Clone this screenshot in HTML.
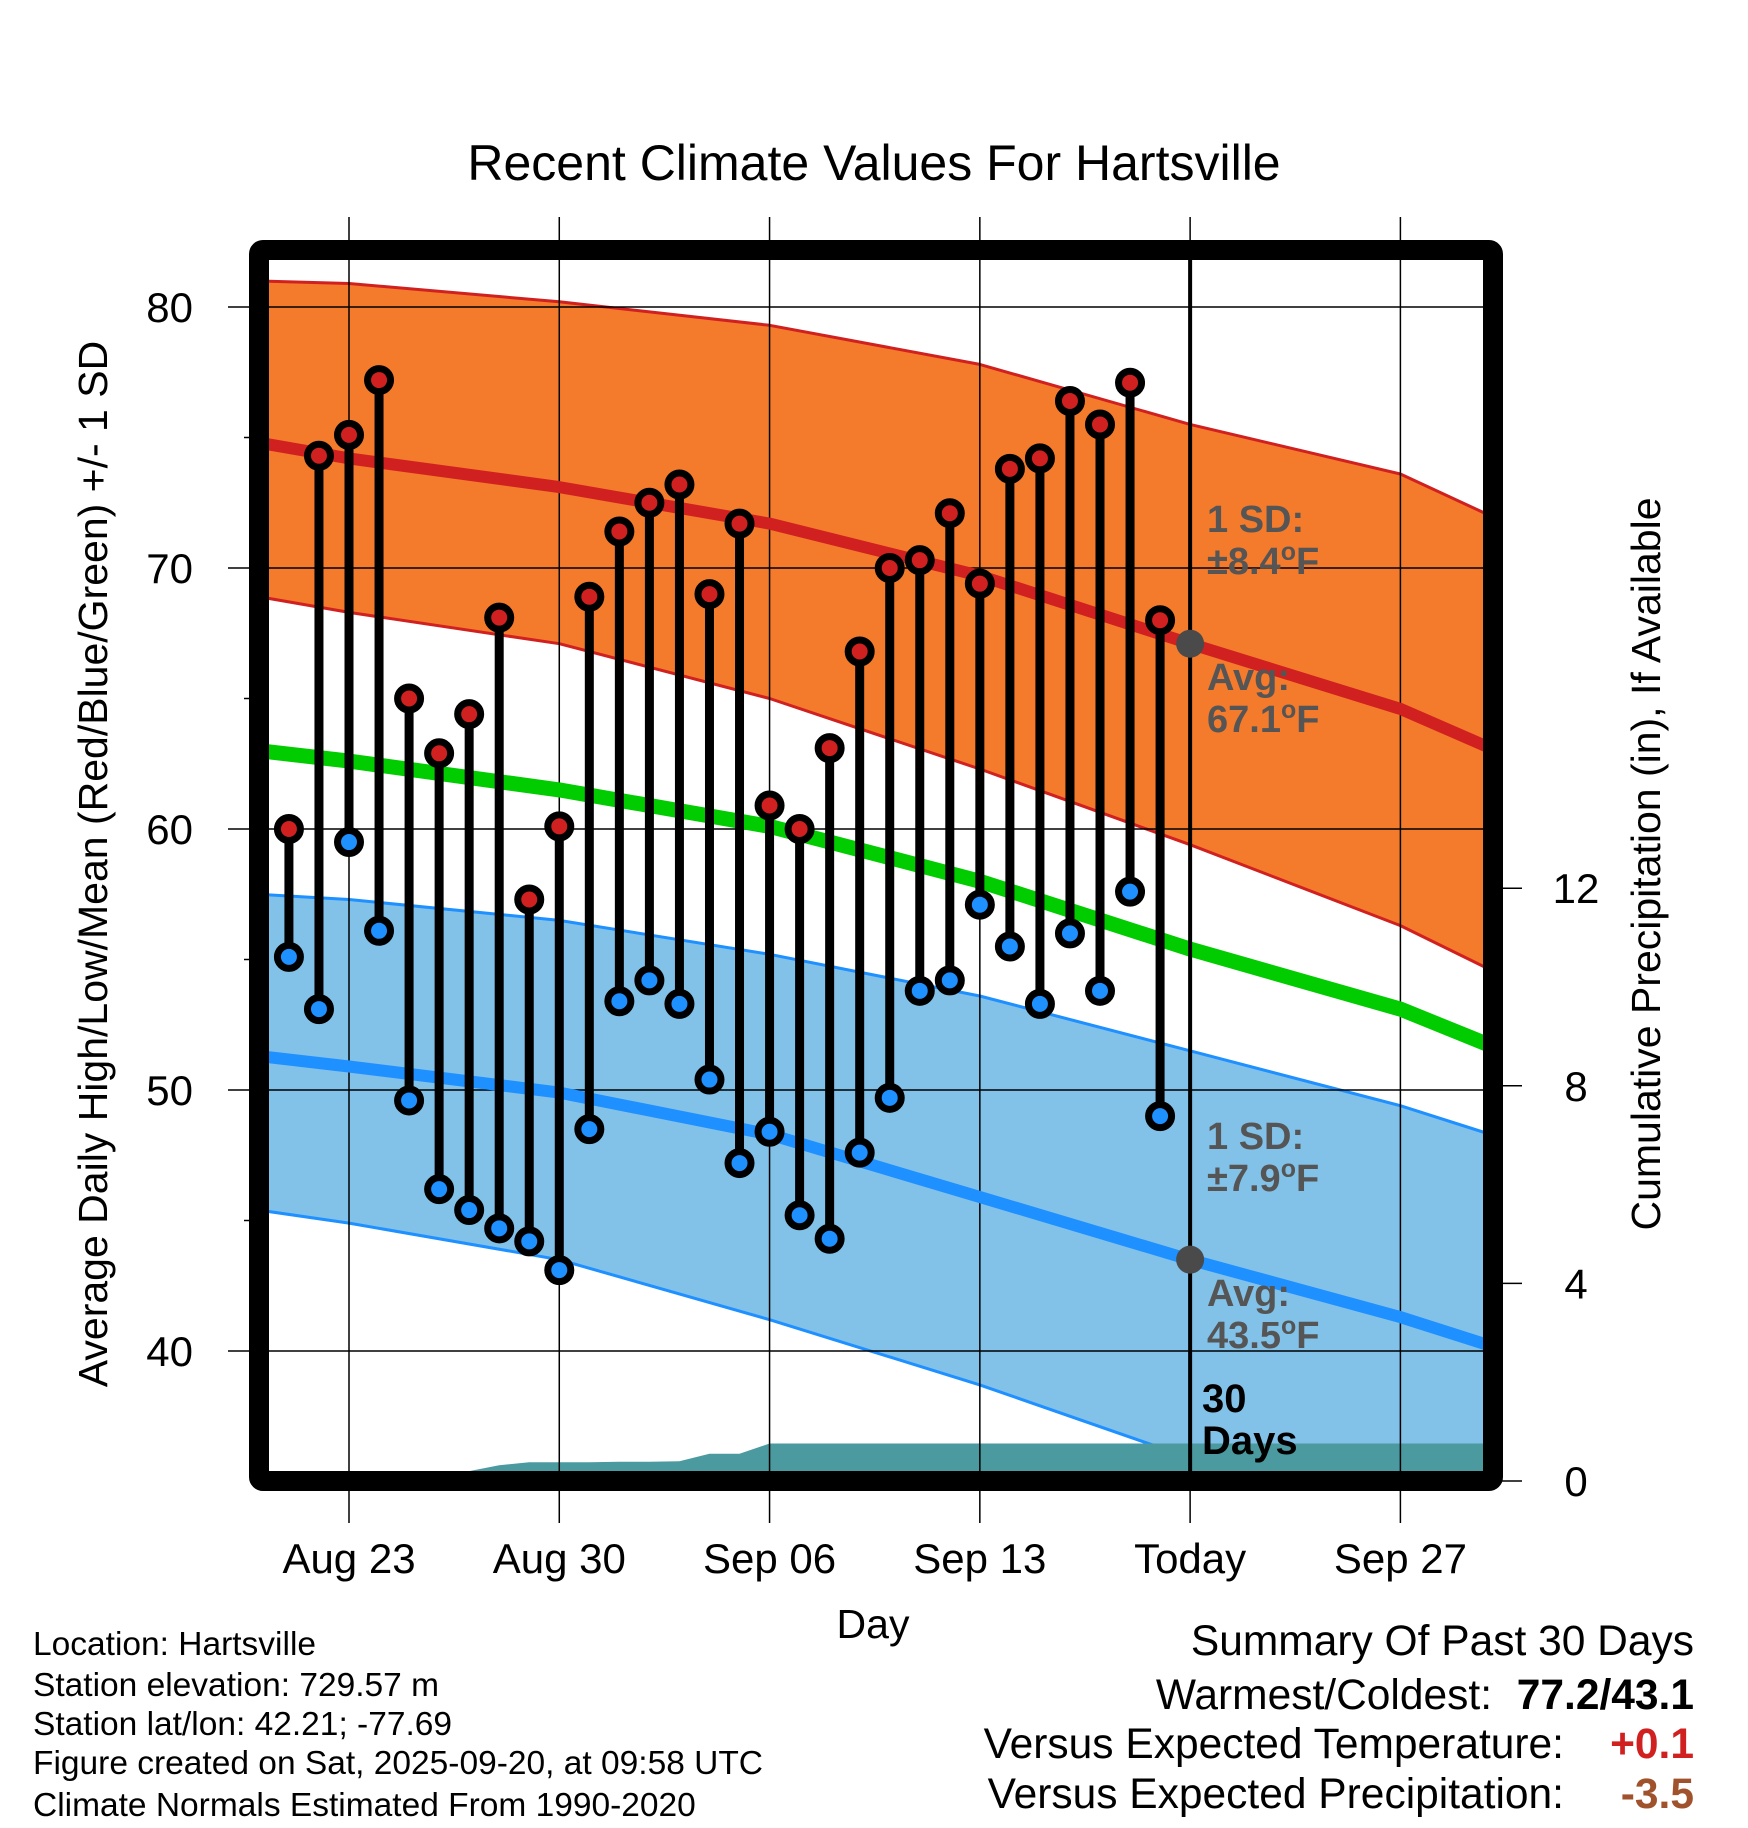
<!DOCTYPE html>
<html><head><meta charset="utf-8"><style>
html,body{margin:0;padding:0;background:#fff}
svg{display:block;font-family:"Liberation Sans",Arial,sans-serif}
</style></head><body>
<svg id="chart" width="1748" height="1828" viewBox="0 0 1748 1828" xmlns="http://www.w3.org/2000/svg">
<defs><clipPath id="pc"><rect x="269" y="260" width="1214" height="1211"/></clipPath></defs>
<text x="874" y="180" text-anchor="middle" font-size="50">Recent Climate Values For Hartsville</text>
<g id="plot" clip-path="url(#pc)"></g>
<g id="over"></g>
<text transform="translate(107,864) rotate(-90)" text-anchor="middle" font-size="41">Average Daily High/Low/Mean (Red/Blue/Green) +/- 1 SD</text>
<text transform="translate(1660,864) rotate(-90)" text-anchor="middle" font-size="41">Cumulative Precipitation (in), If Available</text>
<text x="873" y="1638" text-anchor="middle" font-size="41">Day</text>
<g font-size="33.5">
<text x="33" y="1655">Location: Hartsville</text>
<text x="33" y="1696">Station elevation: 729.57 m</text>
<text x="33" y="1735">Station lat/lon: 42.21; -77.69</text>
<text x="33" y="1774">Figure created on Sat, 2025-09-20, at 09:58 UTC</text>
<text x="33" y="1816">Climate Normals Estimated From 1990-2020</text>
</g>
<g font-size="42.5">
<text x="1694" y="1655" text-anchor="end">Summary Of Past 30 Days</text>
<text x="1492" y="1709" text-anchor="end">Warmest/Coldest:</text>
<text x="1694" y="1709" text-anchor="end" font-weight="bold">77.2/43.1</text>
<text x="1564" y="1758" text-anchor="end">Versus Expected Temperature:</text>
<text x="1694" y="1758" text-anchor="end" font-weight="bold" fill="#d02020">+0.1</text>
<text x="1564" y="1808" text-anchor="end">Versus Expected Precipitation:</text>
<text x="1694" y="1808" text-anchor="end" font-weight="bold" fill="#a0522d">-3.5</text>
</g>
</svg>
<script>
const dataDays=[-2,-1,0,1,2,3,4,5,6,7,8,9,10,11,12,13,14,15,16,17,18,19,20,21,22,23,24,25,26,27];
const highs=[60.0,74.3,75.1,77.2,65.0,62.9,64.4,68.1,57.3,60.1,68.9,71.4,72.5,73.2,69.0,71.7,60.9,60.0,63.1,66.8,70.0,70.3,72.1,69.4,73.8,74.2,76.4,75.5,77.1,68.0];
const lows=[55.1,53.1,59.5,56.1,49.6,46.2,45.4,44.7,44.2,43.1,48.5,53.4,54.2,53.3,50.4,47.2,48.4,45.2,44.3,47.6,49.7,53.8,54.2,57.1,55.5,53.3,56.0,53.8,57.6,49.0];
const precipCum=[0.1,0.1,0.1,0.1,0.1,0.1,0.2,0.32,0.38,0.38,0.38,0.39,0.39,0.40,0.55,0.55,0.76,0.76,0.76,0.76,0.76,0.76,0.76,0.76,0.76,0.76,0.76,0.76,0.76,0.76];
const normDays=[-3,0,7,14,21,28,35,38];
const highUpper=[81.0,80.9,80.2,79.3,77.8,75.5,73.6,72.0];
const highAvg=[74.8,74.2,73.1,71.7,69.7,67.1,64.6,63.1];
const highLower=[68.9,68.3,67.1,65.0,62.3,59.4,56.3,54.6];
const meanAvg=[63.0,62.6,61.5,60.1,58.0,55.4,53.1,51.7];
const lowUpper=[57.5,57.3,56.5,55.2,53.6,51.5,49.4,48.3];
const lowAvg=[51.3,50.9,49.9,48.3,45.9,43.5,41.3,40.2];
const lowLower=[45.4,44.9,43.5,41.2,38.7,35.9,33.0,32.0];
const xTickDays=[0,7,14,21,28,35];
const xTickLabels=["Aug 23","Aug 30","Sep 06","Sep 13","Today","Sep 27"];
const yTicks=[40,50,60,70,80];
const yMinor=[45,55,65,75];
const pTicks=[0,4,8,12];
const todayDay=28;

const X=d=>349+30.04*d;
const Y=t=>307+(80-t)*26.1;
const P=p=>1481-p*49.4;
const NS="http://www.w3.org/2000/svg";
const plot=document.getElementById('plot'),over=document.getElementById('over'),svg=document.getElementById('chart');
function mk(tag,attrs,parent){const e=document.createElementNS(NS,tag);for(const k in attrs)e.setAttribute(k,attrs[k]);parent.appendChild(e);return e;}
function pts(days,vals,f){return days.map((d,i)=>X(d).toFixed(1)+','+f(vals[i]).toFixed(1));}

let e;
e=mk('polygon',{points:pts(normDays,highUpper,Y).concat(pts(normDays,highLower,Y).reverse()).join(' '),fill:'#f47a2c'},plot);

e=mk('polygon',{points:pts(normDays,lowUpper,Y).concat(pts(normDays,lowLower,Y).reverse()).join(' '),fill:'#82c1e8'},plot);

[[highUpper,'#d02020','high-upper-edge'],[highLower,'#d02020','high-lower-edge'],[lowUpper,'#1e90ff','low-upper-edge'],[lowLower,'#1e90ff','low-lower-edge']].forEach(a=>{
 e=mk('polyline',{points:pts(normDays,a[0],Y).join(' '),fill:'none',stroke:a[1],'stroke-width':3,'stroke-linejoin':'round'},plot);
 
});
let pp=[X(dataDays[0])+','+P(0)].concat(pts(dataDays,precipCum,P));
pp.push(X(38)+','+P(precipCum[precipCum.length-1]));pp.push(X(38)+','+P(0));
e=mk('polygon',{points:pp.join(' '),fill:'#4a9aa0'},plot);

yTicks.forEach(t=>{e=mk('line',{x1:228,x2:1483,y1:Y(t),y2:Y(t),stroke:'#000','stroke-width':1.5},over);
 
 e=mk('text',{x:193,y:Y(t)+15,'text-anchor':'end','font-size':42},svg);e.textContent=t;
 });
yMinor.forEach(t=>{e=mk('line',{x1:244,x2:259,y1:Y(t),y2:Y(t),stroke:'#000','stroke-width':1.5},over);
 });
xTickDays.forEach((d,i)=>{e=mk('line',{x1:X(d),x2:X(d),y1:217,y2:1523,stroke:'#000','stroke-width':1.5},over);
 
 e=mk('text',{x:X(d),y:1573,'text-anchor':'middle','font-size':42},svg);e.textContent=xTickLabels[i];
 });
pTicks.forEach(p=>{e=mk('line',{x1:1493,x2:1522,y1:P(p),y2:P(p),stroke:'#000','stroke-width':1.5},svg);
 
 e=mk('text',{x:1576,y:P(p)+15,'text-anchor':'middle','font-size':42},svg);e.textContent=p;
 });
[[highAvg,'#d02020',12,'high-normal-line'],[meanAvg,'#00cc00',15,'mean-normal-line'],[lowAvg,'#1e90ff',12,'low-normal-line']].forEach(a=>{
 e=mk('polyline',{points:pts(normDays,a[0],Y).join(' '),fill:'none',stroke:a[1],'stroke-width':a[2],'stroke-linejoin':'round'},over);
 
});
dataDays.forEach((d,i)=>{
 e=mk('line',{x1:X(d),x2:X(d),y1:Y(highs[i]),y2:Y(lows[i]),stroke:'#000','stroke-width':9},over);
 
});
dataDays.forEach((d,i)=>{
 e=mk('circle',{cx:X(d),cy:Y(highs[i]),r:11.5,fill:'#d02020',stroke:'#000','stroke-width':7},over);
 
 e=mk('circle',{cx:X(d),cy:Y(lows[i]),r:11.5,fill:'#1e90ff',stroke:'#000','stroke-width':7},over);
 
});
e=mk('line',{x1:X(todayDay),x2:X(todayDay),y1:260,y2:1481,stroke:'#000','stroke-width':4},over);

e=mk('circle',{cx:X(todayDay),cy:Y(highAvg[5]),r:14,fill:'#4a4a4a'},over);

e=mk('circle',{cx:X(todayDay),cy:Y(lowAvg[5]),r:14,fill:'#4a4a4a'},over);

function lab(lines,x,y,fill,name,fs){e=mk('text',{x:x,y:y,'font-size':fs,'font-weight':'bold',fill:fill},over);
 
 lines.forEach((l,k)=>{const t=mk('tspan',{x:x,dy:k?42:0},e);t.innerHTML=l;});}
const deg='<tspan dy="-14" font-size="25">o</tspan><tspan dy="14">F</tspan>';
lab(['1 SD:','±8.4'+deg],1207,532,'#555','high-sd-label',38);
lab(['Avg:','67.1'+deg],1207,690,'#555','high-avg-label',38);
lab(['1 SD:','±7.9'+deg],1207,1149,'#555','low-sd-label',38);
lab(['Avg:','43.5'+deg],1207,1306,'#555','low-avg-label',38);
lab(['30','Days'],1202,1412,'#000','window-label',40);
e=mk('rect',{x:259,y:250,width:1234,height:1231,fill:'none',stroke:'#000','stroke-width':20,rx:4},over);

</script>
</body></html>
